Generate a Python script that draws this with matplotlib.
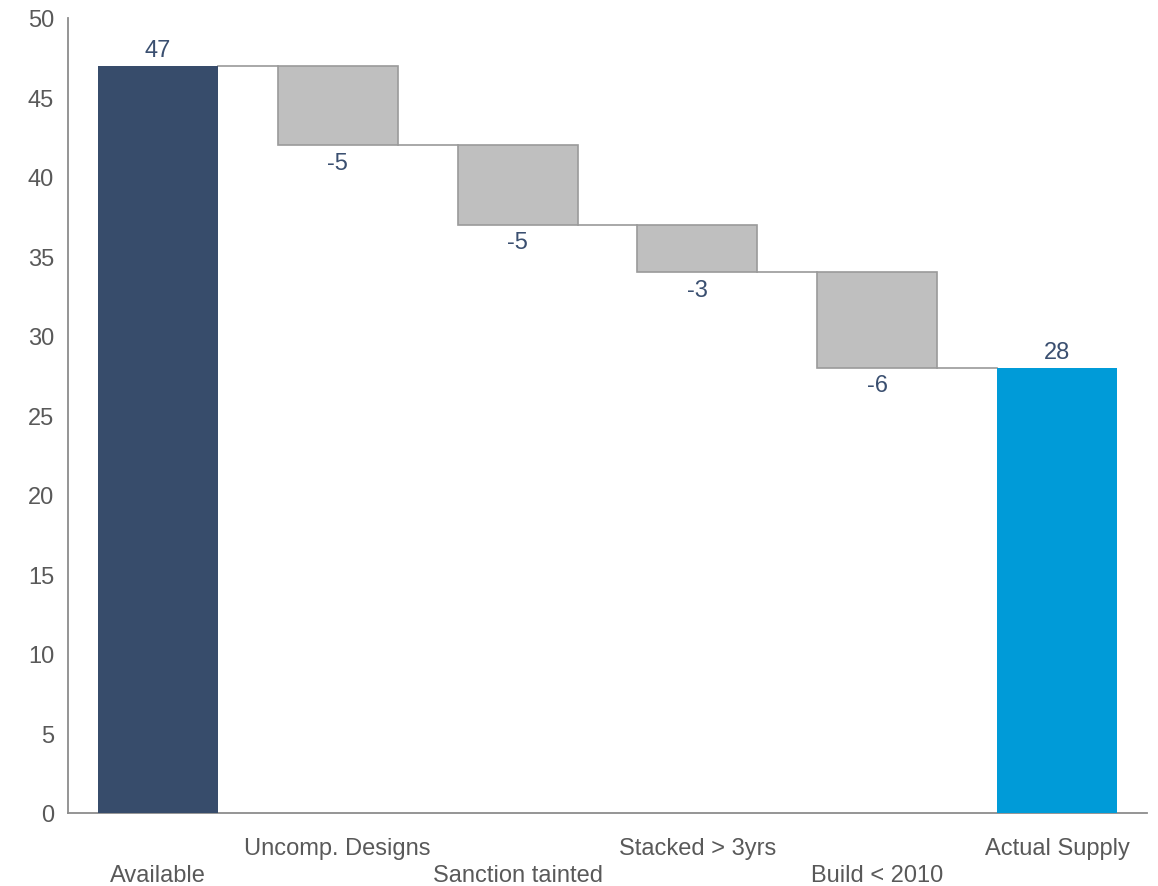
import matplotlib
matplotlib.use("Agg")
import matplotlib.pyplot as plt

categories = ["Available", "Uncomp. Designs", "Sanction tainted", "Stacked > 3yrs", "Build < 2010", "Actual Supply"]
values = [47, -5, -5, -3, -6, 28]
is_total = [True, False, False, False, False, True]
yticks = [0, 5, 10, 15, 20, 25, 30, 35, 40, 45, 50]

plt.rcParams['font.family'] = ['Liberation Sans', 'DejaVu Sans']

fig = plt.figure(figsize=(11.58, 8.87), dpi=100)
ax = fig.add_axes([0.0587, 0.0823, 0.9318, 0.8963])

W = 0.667
total_colors = ["#374c6b", "#009bd8"]
label_color = "#3a4f70"
text_gray = "#595959"
FS = 17

running = 0
levels = []
ti = 0
for i, (v, tot) in enumerate(zip(values, is_total)):
    if tot:
        ax.bar(i, v, width=W, bottom=0, color=total_colors[ti], edgecolor='none', zorder=3)
        ti += 1
        running = v
        ax.text(i, v + 0.3, f"{v}", ha='center', va='bottom', fontsize=FS, color=label_color)
    else:
        running = running + v
        ax.bar(i, -v, width=W, bottom=running, color="#bfbfbf", edgecolor="#9a9a9a", linewidth=1.2, zorder=3)
        ax.text(i, running - 0.4, f"{v}", ha='center', va='top', fontsize=FS, color=label_color)
    levels.append(running)

for i in range(len(values) - 1):
    ax.plot([i + W / 2, i + 1 - W / 2], [levels[i], levels[i]], color="#9a9a9a", linewidth=1.2, zorder=2)

ax.set_xlim(-0.5, len(values) - 0.5)
ax.set_ylim(0, 50)
ax.set_yticks(yticks)
ax.set_yticklabels([str(t) for t in yticks])
ax.set_xticks(range(len(categories)))
ax.set_xticklabels([("\n" + c) if i % 2 == 0 else c for i, c in enumerate(categories)], linespacing=1.3)

for s in ['top', 'right']:
    ax.spines[s].set_visible(False)
for s in ['left', 'bottom']:
    ax.spines[s].set_color("#8c8c8c")
    ax.spines[s].set_linewidth(1.3)

ax.tick_params(axis='both', length=0, colors=text_gray, labelsize=FS)
ax.tick_params(axis='x', pad=17)
ax.tick_params(axis='y', pad=10)

fig.savefig("out.png", dpi=100)
